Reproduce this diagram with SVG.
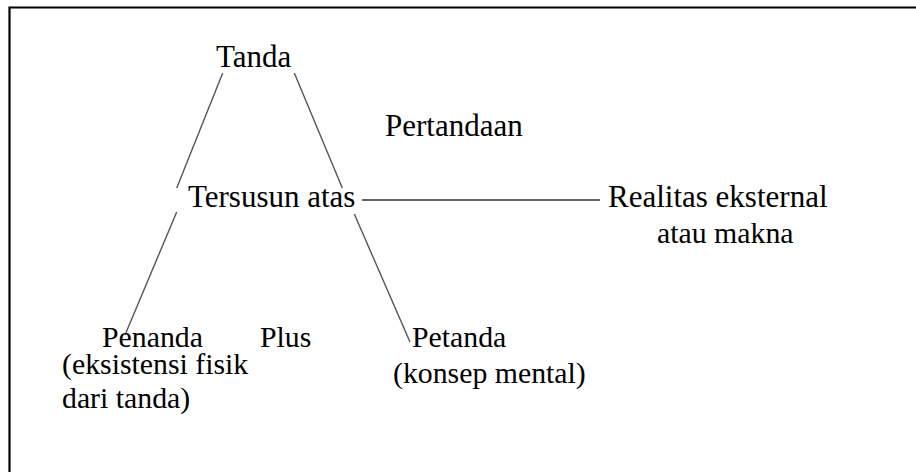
<svg xmlns="http://www.w3.org/2000/svg" width="916" height="472" viewBox="0 0 916 472">
<style>
text{font-family:"Liberation Serif","Times New Roman",serif;font-size:31px;fill:#000}
text.s{font-size:29.8px}
.c{stroke:#555;stroke-width:1.4;fill:none}
.h{stroke:#666;stroke-width:1.8;fill:none}
</style>
<rect width="916" height="472" fill="#fff"/>
<path d="M9.5 472V7.5H916" fill="none" stroke="#000" stroke-width="2.2"/>
<g id="connectors">
<line class="c" x1="222.7" y1="73" x2="176.7" y2="188"/>
<line class="c" x1="294.3" y1="73" x2="342.3" y2="188"/>
<line class="c" x1="176.7" y1="212" x2="125" y2="335"/>
<line class="c" x1="354.3" y1="214" x2="410" y2="342"/>
<line class="h" x1="362" y1="200" x2="600" y2="200"/>
</g>
<g id="tanda"><text x="216" y="67">Tanda</text></g>
<g id="pertandaan"><text x="385" y="136">Pertandaan</text></g>
<g id="tersusun"><text x="188" y="207">Tersusun atas</text></g>
<g id="realitas"><text x="608" y="207">Realitas eksternal</text><text class="s" x="657" y="243">atau makna</text></g>
<g id="penanda"><text class="s" x="102" y="347">Penanda</text><text class="s" x="62" y="374">(eksistensi fisik</text><text class="s" x="62" y="408">dari tanda)</text></g>
<g id="plus"><text class="s" x="260" y="347">Plus</text></g>
<g id="petanda"><text class="s" x="412" y="347">Petanda</text><text class="s" x="393" y="383">(konsep mental)</text></g>
</svg>
